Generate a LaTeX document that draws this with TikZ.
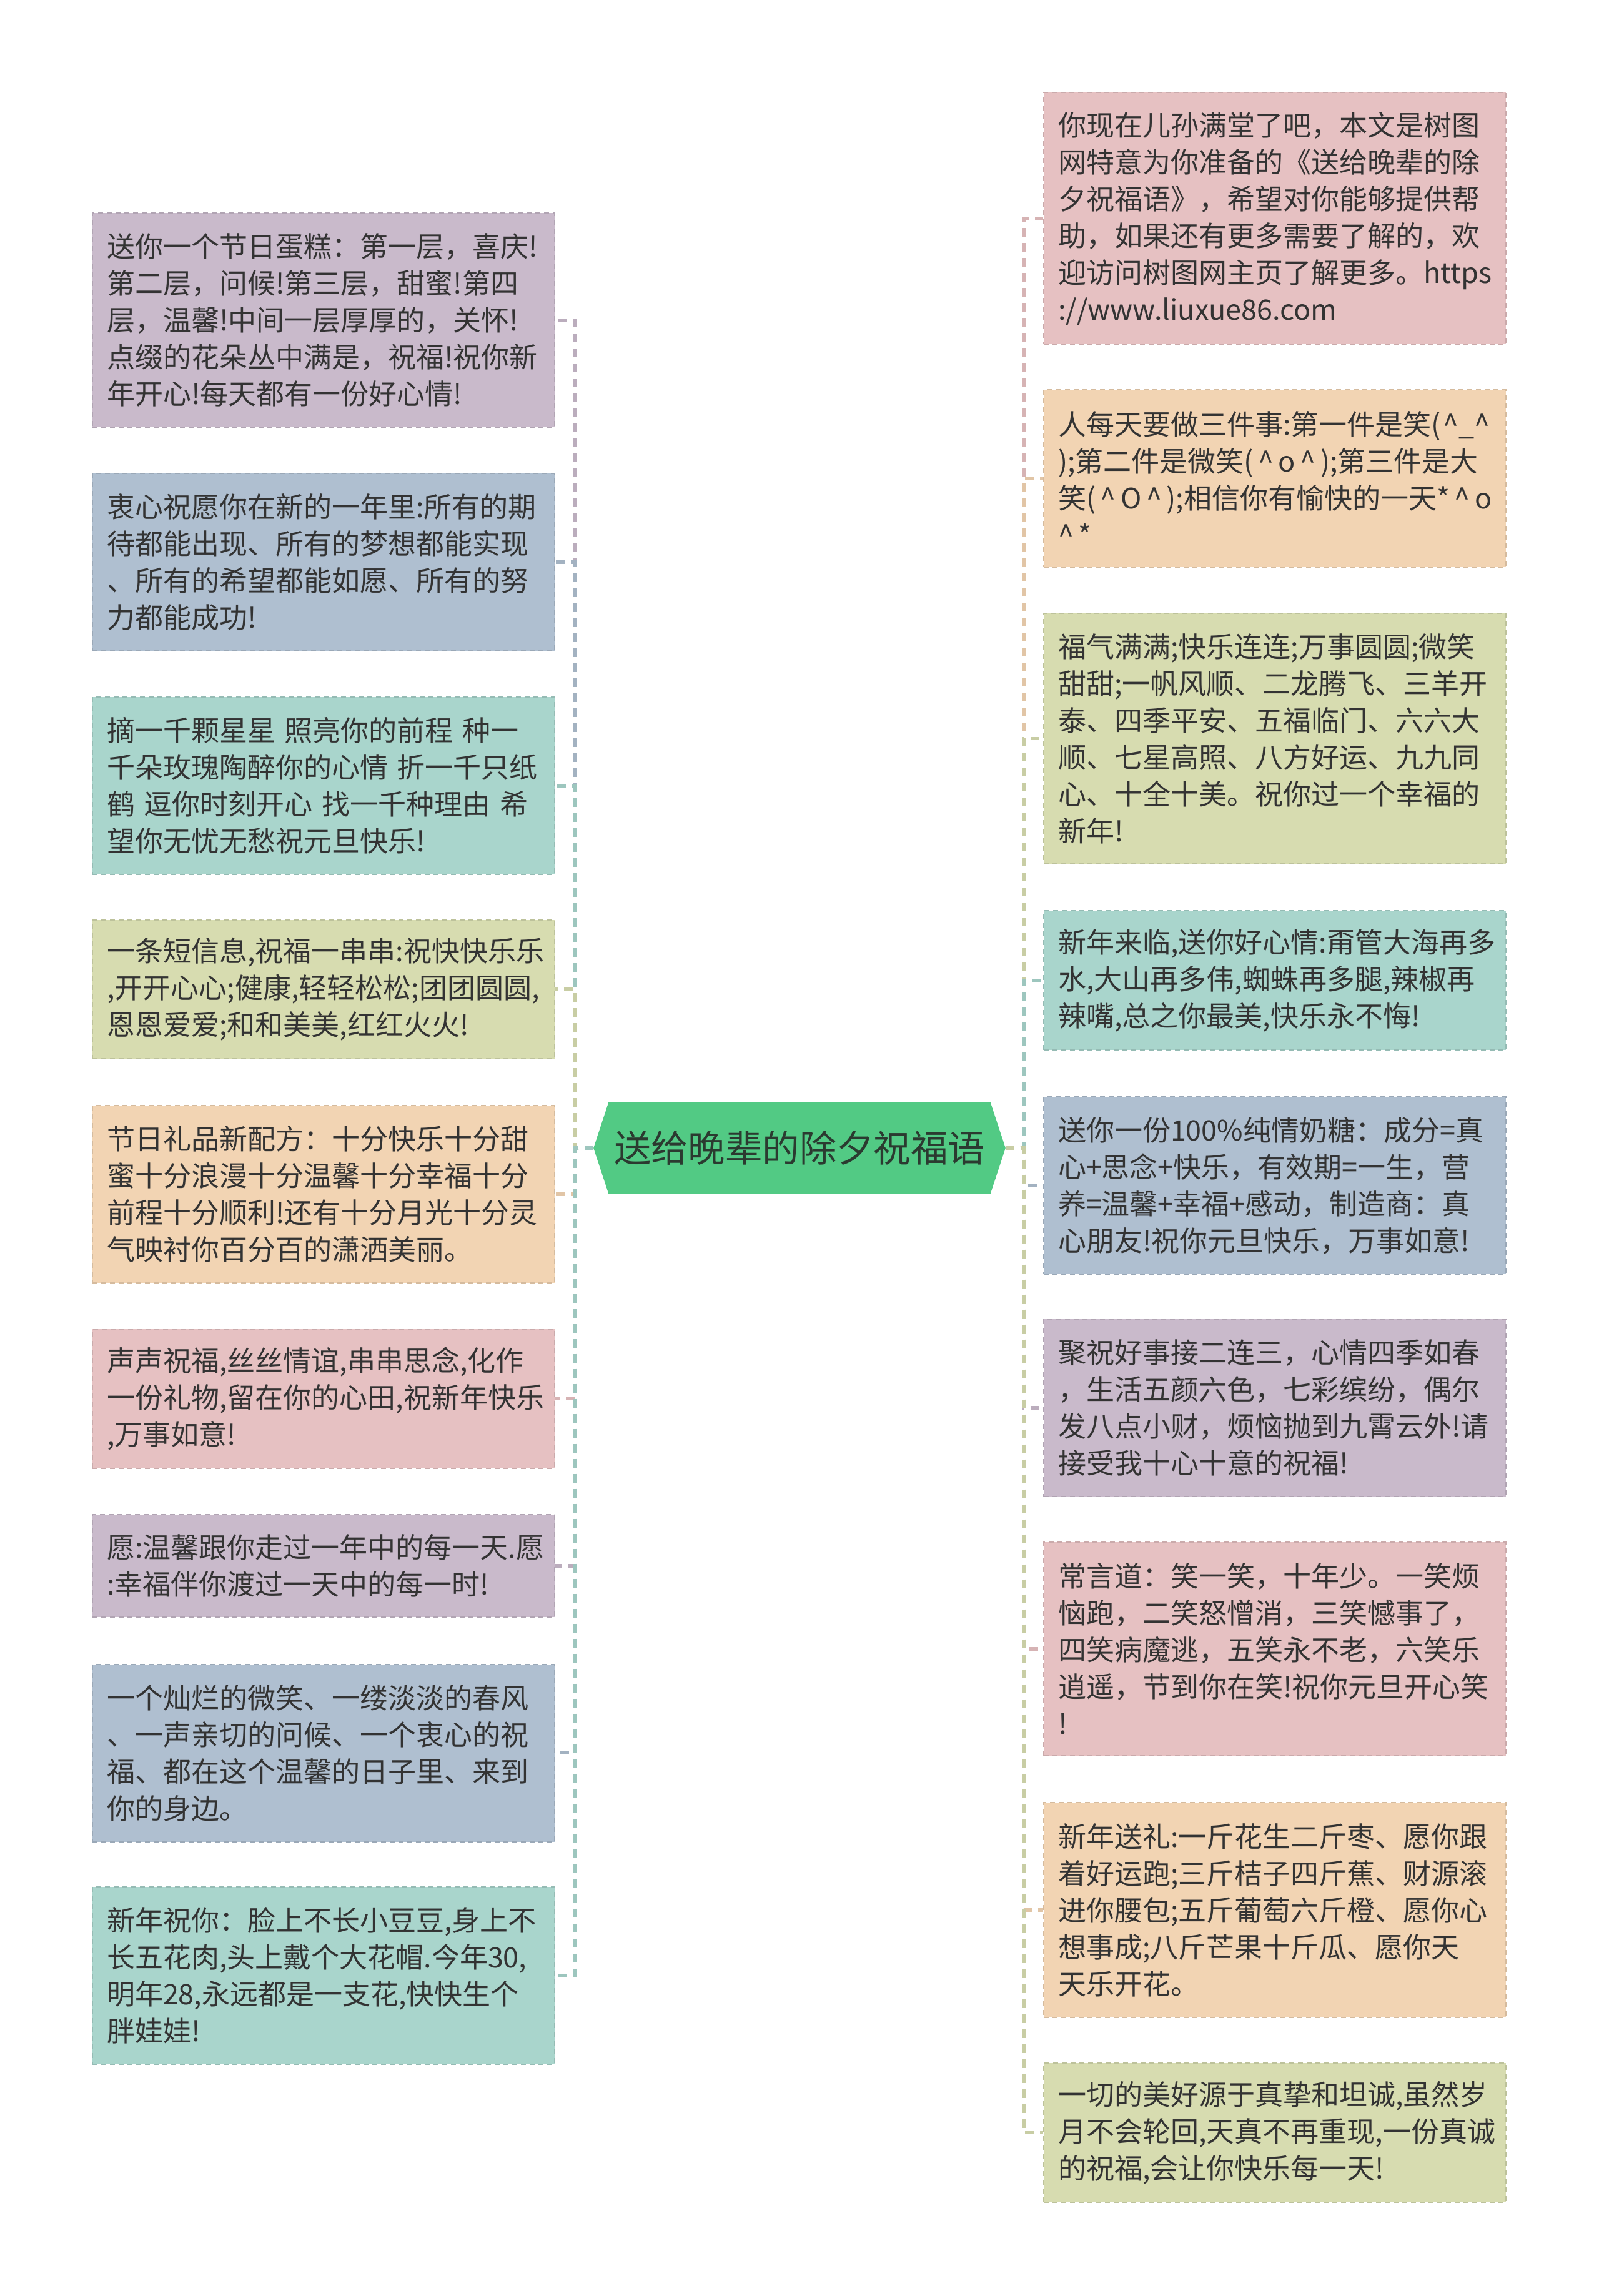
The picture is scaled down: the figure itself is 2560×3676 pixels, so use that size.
\documentclass[tikz,border=0pt]{standalone}
\usepackage{fontspec}
\setmainfont{Noto Sans CJK SC}
\usetikzlibrary{backgrounds}
\definecolor{cpurple}{HTML}{C9BACB}
\definecolor{cblue}{HTML}{AFBFD0}
\definecolor{cteal}{HTML}{A9D5CC}
\definecolor{colive}{HTML}{D7DCB0}
\definecolor{cpeach}{HTML}{F2D4B3}
\definecolor{cpink}{HTML}{E6C1C2}
\definecolor{cgreen}{HTML}{52CA84}
\definecolor{txt}{HTML}{333333}
\definecolor{ctxt}{HTML}{2B3A30}
\tikzset{
  leaf/.style={fill=#1, draw=#1!88!black, line width=0.5pt, dash pattern=on 2pt off 1.5pt,
    text width=173.5pt, inner xsep=5.75pt, inner ysep=0pt, align=left, text=txt,
    font={\fontsize{11.25pt}{14.75pt}\selectfont}},
  conn/.style={draw=#1!93!black, line width=1.3pt, dash pattern=on 3.5pt off 2.5pt},
}
\begin{document}
\begin{tikzpicture}[x=0.25pt,y=-0.25pt]
\useasboundingbox (0,0) rectangle (2560,3676);

% centre
\node[minimum width=164.5pt, minimum height=36pt, inner sep=0pt, text=ctxt,
  font={\fontsize{14.85pt}{17pt}\selectfont}] (c) at (1280,1838) {送给晚辈的除夕祝福语};

% left
\node[leaf=cpurple, minimum height=85.75pt] (L1) at (518,512.5) {送你一个节日蛋糕：第一层，喜庆!\\第二层，问候!第三层，甜蜜!第四\\层，温馨!中间一层厚厚的，关怀!\\点缀的花朵丛中满是，祝福!祝你新\\年开心!每天都有一份好心情!};
\node[leaf=cblue, minimum height=71pt] (L2) at (518,900) {衷心祝愿你在新的一年里:所有的期\\待都能出现、所有的梦想都能实现\\、所有的希望都能如愿、所有的努\\力都能成功!};
\node[leaf=cteal, minimum height=71pt] (L3) at (518,1258) {摘一千颗星星 照亮你的前程 种一\\千朵玫瑰陶醉你的心情 折一千只纸\\鹤 逗你时刻开心 找一千种理由 希\\望你无忧无愁祝元旦快乐!};
\node[leaf=colive, minimum height=55.5pt] (L4) at (518,1583.5) {一条短信息,祝福一串串:祝快快乐乐\\,开开心心;健康,轻轻松松;团团圆圆,\\恩恩爱爱;和和美美,红红火火!};
\node[leaf=cpeach, minimum height=71pt] (L5) at (518,1912) {节日礼品新配方：十分快乐十分甜\\蜜十分浪漫十分温馨十分幸福十分\\前程十分顺利!还有十分月光十分灵\\气映衬你百分百的潇洒美丽。};
\node[leaf=cpink, minimum height=55.75pt] (L6) at (518,2239.5) {声声祝福,丝丝情谊,串串思念,化作\\一份礼物,留在你的心田,祝新年快乐\\,万事如意!};
\node[leaf=cpurple, minimum height=41pt] (L7) at (518,2507) {愿:温馨跟你走过一年中的每一天.愿\\:幸福伴你渡过一天中的每一时!};
\node[leaf=cblue, minimum height=71pt] (L8) at (518,2806.5) {一个灿烂的微笑、一缕淡淡的春风\\、一声亲切的问候、一个衷心的祝\\福、都在这个温馨的日子里、来到\\你的身边。};
\node[leaf=cteal, minimum height=71pt] (L9) at (518,3162.5) {新年祝你：脸上不长小豆豆,身上不\\长五花肉,头上戴个大花帽.今年30,\\明年28,永远都是一支花,快快生个\\胖娃娃!};

% right
\node[leaf=cpink, minimum height=100.75pt] (R1) at (2041,349.5) {你现在儿孙满堂了吧，本文是树图\\网特意为你准备的《送给晚辈的除\\夕祝福语》，希望对你能够提供帮\\助，如果还有更多需要了解的，欢\\迎访问树图网主页了解更多。https\\://www.liuxue86.com};
\node[leaf=cpeach, minimum height=71pt] (R2) at (2041,765.5) {人每天要做三件事:第一件是笑(\kern1pt\textasciicircum\_\textasciicircum\\);第二件是微笑(\,\textasciicircum\,o\,\textasciicircum\,);第三件是大\\笑(\,\textasciicircum\,O\,\textasciicircum\,);相信你有愉快的一天*\,\textasciicircum\,o\\\textasciicircum\,*};
\node[leaf=colive, minimum height=100.25pt] (R3) at (2041,1182.5) {福气满满;快乐连连;万事圆圆;微笑\\甜甜;一帆风顺、二龙腾飞、三羊开\\泰、四季平安、五福临门、六六大\\顺、七星高照、八方好运、九九同\\心、十全十美。祝你过一个幸福的\\新年!};
\node[leaf=cteal, minimum height=55.75pt] (R4) at (2041,1569.5) {新年来临,送你好心情:甭管大海再多\\水,大山再多伟,蜘蛛再多腿,辣椒再\\辣嘴,总之你最美,快乐永不悔!};
\node[leaf=cblue, minimum height=71pt] (R5) at (2041,1898) {送你一份100\%纯情奶糖：成分=真\\心+思念+快乐，有效期=一生，营\\养=温馨+幸福+感动，制造商：真\\心朋友!祝你元旦快乐，万事如意!};
\node[leaf=cpurple, minimum height=71pt] (R6) at (2041,2254) {聚祝好事接二连三，心情四季如春\\，生活五颜六色，七彩缤纷，偶尔\\发八点小财，烦恼抛到九霄云外!请\\接受我十心十意的祝福!};
\node[leaf=cpink, minimum height=85.5pt] (R7) at (2041,2640) {常言道：笑一笑，十年少。一笑烦\\恼跑，二笑怒憎消，三笑憾事了，\\四笑病魔逃，五笑永不老，六笑乐\\逍遥，节到你在笑!祝你元旦开心笑\\!};
\node[leaf=cpeach, minimum height=86pt] (R8) at (2041,3058) {新年送礼:一斤花生二斤枣、愿你跟\\着好运跑;三斤桔子四斤蕉、财源滚\\进你腰包;五斤葡萄六斤橙、愿你心\\想事成;八斤芒果十斤瓜、愿你天\\天乐开花。};
\node[leaf=colive, minimum height=55.75pt] (R9) at (2041,3414.5) {一切的美好源于真挚和坦诚,虽然岁\\月不会轮回,天真不再重现,一份真诚\\的祝福,会让你快乐每一天!};

\begin{scope}[on background layer]
\fill[white] (0,0) rectangle (2560,3676);
\fill[cgreen] (c.west) -- ([xshift=6pt]c.north west) -- ([xshift=-6pt]c.north east)
  -- (c.east) -- ([xshift=-6pt]c.south east) -- ([xshift=6pt]c.south west) -- cycle;
\draw[conn=cpurple] (c.west) -- (920,1838) |- (L1.east);
\draw[conn=cblue]   (c.west) -- (920,1838) |- (L2.east);
\draw[conn=cteal]   (c.west) -- (920,1838) |- (L3.east);
\draw[conn=colive]  (c.west) -- (920,1838) |- (L4.east);
\draw[conn=cpeach]  (c.west) -- (920,1838) |- (L5.east);
\draw[conn=cpink]   (c.west) -- (920,1838) |- (L6.east);
\draw[conn=cpurple] (c.west) -- (920,1838) |- (L7.east);
\draw[conn=cblue]   (c.west) -- (920,1838) |- (L8.east);
\draw[conn=cteal]   (c.west) -- (920,1838) |- (L9.east);
\draw[conn=cpink]   (c.east) -- (1639,1838) |- (R1.west);
\draw[conn=cpeach]  (c.east) -- (1639,1838) |- (R2.west);
\draw[conn=colive]  (c.east) -- (1639,1838) |- (R3.west);
\draw[conn=cteal]   (c.east) -- (1639,1838) |- (R4.west);
\draw[conn=cblue]   (c.east) -- (1639,1838) |- (R5.west);
\draw[conn=cpurple] (c.east) -- (1639,1838) |- (R6.west);
\draw[conn=cpink]   (c.east) -- (1639,1838) |- (R7.west);
\draw[conn=cpeach]  (c.east) -- (1639,1838) |- (R8.west);
\draw[conn=colive]  (c.east) -- (1639,1838) |- (R9.west);
\end{scope}
\end{tikzpicture}
\end{document}
